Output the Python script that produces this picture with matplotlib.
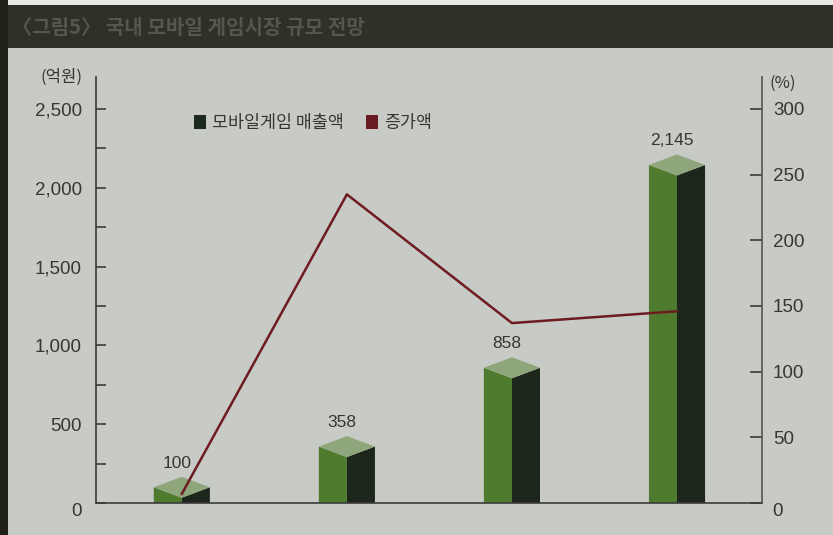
import matplotlib
matplotlib.use("Agg")
import matplotlib.pyplot as plt
import numpy as np
from matplotlib.patches import Patch

plt.rcParams['font.family'] = ['Noto Sans CJK KR', 'DejaVu Sans']

# ---- data ----
years_idx = [0, 1, 2, 3]
sales = [100, 358, 858, 2145]            # 모바일게임 매출액 (억원)
sales_labels = ["100", "358", "858", "2,145"]
growth = [7, 235, 137, 146]              # 증가액 (%)
left_ticks = [0, 500, 1000, 1500, 2000, 2500]
left_ticklabels = ["0", "500", "1,000", "1,500", "2,000", "2,500"]
right_ticks = [0, 50, 100, 150, 200, 250, 300]
right_ticklabels = ["0", "50", "100", "150", "200", "250", "300"]
title = "〈그림5〉 국내 모바일 게임시장 규모 전망"
legend_labels = ["모바일게임 매출액", "증가액"]

BG = "#c8cac5"
TXT = "#363636"
NUMFONT = ["Liberation Sans", "DejaVu Sans"]
W, H = 833, 535

fig = plt.figure(figsize=(W / 100, H / 100), dpi=100)
fig.patch.set_facecolor(BG)

# title bar and borders
fig.patches.append(plt.Rectangle((0, (H - 48) / H), 1, 43 / H, transform=fig.transFigure,
                                 facecolor="#2f3129", edgecolor="none", zorder=0))
fig.patches.append(plt.Rectangle((0, (H - 5) / H), 1, 5 / H, transform=fig.transFigure,
                                 facecolor="#e8e8e4", edgecolor="none", zorder=0))
fig.patches.append(plt.Rectangle((0, 0), 8 / W, 1, transform=fig.transFigure,
                                 facecolor="#202219", edgecolor="none", zorder=0))
fig.text(12 / W, 1 - 28 / H, title, color="#55574c", fontsize=14.5, va="center",
         ha="left", fontweight="bold")

# axes
ax_l, ax_r, ax_b, ax_t = 96, 762, 503, 77
ax = fig.add_axes([ax_l / W, (H - ax_b) / H, (ax_r - ax_l) / W, (ax_b - ax_t) / H])
ax.set_facecolor("none")
ymax_l = 2500 * (ax_b - ax_t) / (ax_b - 109)
ymax_r = 300 * (ax_b - ax_t) / (ax_b - 109)
ax.set_ylim(0, ymax_l)
ax.set_xlim(-0.52, 3.515)

# 3D-like bars
px_per_unit = (ax_b - ax_t) / ymax_l
w = 0.17
dy = 10.5 / px_per_unit
for x, v, lab in zip(years_idx, sales, sales_labels):
    ax.fill([x - w, x - w, x, x], [0, v, v - dy, 0], color="#4f7b2f", lw=0, zorder=2)
    ax.fill([x, x, x + w, x + w], [0, v - dy, v, 0], color="#1d261b", lw=0, zorder=2)
    ax.fill([x - w, x, x + w, x], [v, v + dy, v, v - dy], color="#8fa67c", lw=0, zorder=3)
    ax.text(x - 0.03, v + dy + 13.5 / px_per_unit, lab, ha="center", va="center",
            fontsize=12.5, color=TXT, family=NUMFONT)

for s in ["top", "right"]:
    ax.spines[s].set_visible(False)
ax.spines["left"].set_color("#3a3a3a")
ax.spines["bottom"].set_color("#3a3a3a")
ax.spines["left"].set_linewidth(1.2)
ax.spines["bottom"].set_linewidth(1.2)
ax.set_xticks([])
ax.set_yticks(left_ticks)
ax.set_yticklabels([("" if t == "0" else t) for t in left_ticklabels], family=NUMFONT)
ax.set_yticks([250, 750, 1250, 1750, 2250], minor=True)
ax.tick_params(axis="y", which="both", direction="in", length=7, width=1.2,
               color="#3a3a3a", labelsize=13.5, labelcolor=TXT, pad=10)
ax.text(-0.021, 1.0, "(억원)", transform=ax.transAxes, ha="right", va="center",
        fontsize=12, color=TXT)
ax.text(-14 / (ax_r - ax_l), -9 / (ax_b - ax_t), left_ticklabels[0], transform=ax.transAxes,
        ha="right", va="center", fontsize=13.5, color=TXT, family=NUMFONT)

# right axis
ax2 = ax.twinx()
ax2.set_ylim(0, ymax_r)
ax2.plot(years_idx, growth, color="#6e1c22", lw=1.8, zorder=5)
for s in ["top", "left", "bottom"]:
    ax2.spines[s].set_visible(False)
ax2.spines["right"].set_color("#555555")
ax2.spines["right"].set_linewidth(1.2)
ax2.set_yticks(right_ticks)
ax2.set_yticklabels([("" if t == "0" else t) for t in right_ticklabels], family=NUMFONT)
ax2.tick_params(axis="y", direction="in", length=9, width=1.2, color="#3a3a3a",
                labelsize=13.5, labelcolor=TXT, pad=8)
ax2.text(1.011, 0.985, "(%)", transform=ax2.transAxes, ha="left", va="center",
         fontsize=12, color=TXT)
ax2.text(1 + 10 / (ax_r - ax_l), -9 / (ax_b - ax_t), right_ticklabels[0], transform=ax2.transAxes,
         ha="left", va="center", fontsize=13.5, color=TXT, family=NUMFONT)

# legend
handles = [Patch(facecolor="#1f2a1e", edgecolor="none"),
           Patch(facecolor="#6a1a22", edgecolor="none")]
leg = ax2.legend(handles, legend_labels, loc="upper left",
                 bbox_to_anchor=((178 - ax_l) / (ax_r - ax_l), (ax_b - 98) / (ax_b - ax_t)),
                 ncol=2, frameon=False, fontsize=12.5, handlelength=0.7, handleheight=0.85,
                 handletextpad=0.35, columnspacing=1.3, labelcolor=TXT)

fig.savefig("out.png", dpi=100, facecolor=fig.get_facecolor())
